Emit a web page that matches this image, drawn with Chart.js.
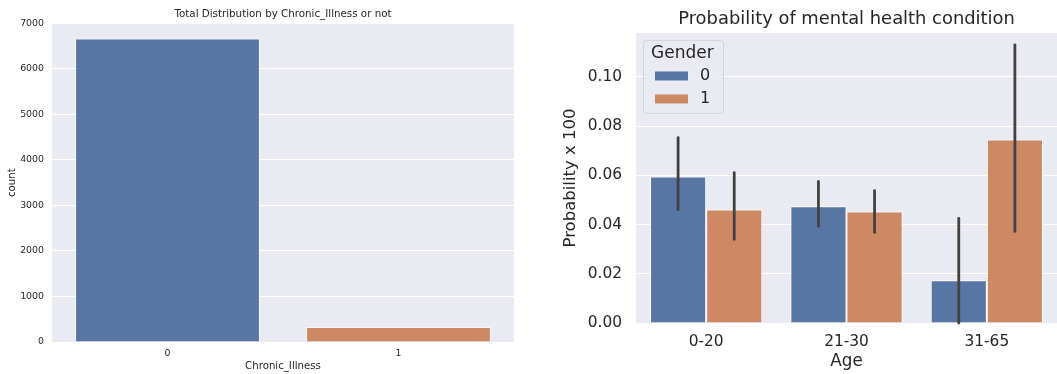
<!DOCTYPE html>
<html><head><meta charset="utf-8">
<script src="https://cdn.jsdelivr.net/npm/chart.js@4.4.0/dist/chart.umd.min.js"></script>
<style>
html,body{margin:0;padding:0;background:#fff;width:1057px;height:374px;overflow:hidden}
#wrap{position:relative;width:1057px;height:374px}
#c1{position:absolute;left:0;top:0}
#c2{position:absolute;left:540px;top:0}
</style></head><body>
<div id="wrap"><canvas id="c1" width="540" height="374"></canvas><canvas id="c2" width="517" height="374"></canvas></div>
<script>
// ---- data ----
const illnessCategories = ['0', '1'];
const illnessCounts = [6670, 330];
const illnessTickStep = 1000;
const illnessMax = 7000;

const ageGroups = ['0-20', '21-30', '31-65'];
const genderLabels = ['0', '1'];
const probGender0 = [0.0595, 0.0474, 0.0174];
const probGender1 = [0.0461, 0.0453, 0.0745];
const ciLowGender0 = [0.0461, 0.0393, 0.0];
const ciHighGender0 = [0.0753, 0.0575, 0.0425];
const ciLowGender1 = [0.0340, 0.0368, 0.0372];
const ciHighGender1 = [0.0611, 0.0538, 0.1130];
const probTickStep = 0.02;
const probMax = 0.1178;

// ---- styles ----
const BLUE = '#5875A4';
const ORANGE = '#CC8963';
const TEXT = '#262626';
const FONT = "'DejaVu Sans', sans-serif";
Chart.defaults.font.family = FONT;
Chart.defaults.color = TEXT;

const bgPlugin = {
  id: 'bg',
  beforeDraw(chart) {
    const {ctx, chartArea: a} = chart;
    ctx.save();
    ctx.fillStyle = '#EAEAF2';
    ctx.fillRect(a.left, a.top, a.right - a.left, a.bottom - a.top);
    ctx.restore();
  }
};

// ---- chart 1 ----
new Chart(document.getElementById('c1'), {
  type: 'bar',
  data: {
    labels: illnessCategories,
    datasets: [{
      data: illnessCounts,
      backgroundColor: [BLUE, ORANGE],
      borderColor: 'rgba(255,255,255,0.6)',
      borderWidth: 1,
      categoryPercentage: 0.8,
      barPercentage: 1.0
    }]
  },
  options: {
    responsive: false,
    animation: false,
    devicePixelRatio: 1,
    layout: {padding: {left: 0, right: 26, top: 0, bottom: 0}},
    plugins: {
      legend: {display: false},
      tooltip: {enabled: false},
      title: {
        display: true,
        fullSize: false,
        text: 'Total Distribution by Chronic_Illness or not',
        font: {size: 10.3, weight: 'normal'},
        color: TEXT,
        padding: {top: 8, bottom: 3}
      }
    },
    scales: {
      x: {
        grid: {display: false, drawTicks: false},
        border: {display: false},
        ticks: {font: {size: 9.4}, padding: 5.5, color: TEXT},
        title: {display: true, text: 'Chronic_Illness', font: {size: 10.2}, color: TEXT, padding: {top: 0, bottom: 1.2}},
        afterFit: s => { s.height = 32; }
      },
      y: {
        min: 0, max: illnessMax,
        grid: {color: '#FFFFFF', lineWidth: 1, drawTicks: false},
        border: {display: false},
        ticks: {stepSize: illnessTickStep, font: {size: 9.4}, padding: 8, color: TEXT,
          callback: v => String(v)},
        title: {display: true, text: 'count', font: {size: 10.2}, color: TEXT, padding: {top: 6, bottom: 0}},
        afterFit: s => { s.width = 52; }
      }
    }
  },
  plugins: [bgPlugin]
});

// ---- chart 2 ----
const ciLow = [ciLowGender0, ciLowGender1];
const ciHigh = [ciHighGender0, ciHighGender1];

const errPlugin = {
  id: 'err',
  afterDatasetsDraw(chart) {
    const {ctx} = chart;
    const y = chart.scales.y;
    ctx.save();
    ctx.strokeStyle = '#424242';
    ctx.lineWidth = 2.8;
    ctx.lineCap = 'round';
    chart.data.datasets.forEach((ds, di) => {
      const meta = chart.getDatasetMeta(di);
      meta.data.forEach((el, i) => {
        ctx.beginPath();
        ctx.moveTo(el.x, y.getPixelForValue(ciLow[di][i]));
        ctx.lineTo(el.x, y.getPixelForValue(ciHigh[di][i]));
        ctx.stroke();
      });
    });
    ctx.restore();
  }
};

const legendPlugin = {
  id: 'customLegend',
  afterDraw(chart) {
    const {ctx, chartArea: a} = chart;
    const bx = a.left + 7, by = a.top + 7, bw = 80, bh = 73;
    ctx.save();
    ctx.fillStyle = 'rgba(234,234,242,0.8)';
    ctx.strokeStyle = '#D3D3DA';
    ctx.lineWidth = 1;
    ctx.beginPath();
    ctx.roundRect(bx + 0.5, by + 0.5, bw, bh, 3);
    ctx.fill();
    ctx.stroke();
    ctx.fillStyle = TEXT;
    ctx.textBaseline = 'middle';
    ctx.textAlign = 'left';
    ctx.font = "17px " + FONT;
    ctx.fillText('Gender', bx + 8, by + 14);
    ctx.font = "16px " + FONT;
    chart.data.datasets.forEach((ds, i) => {
      const cy = by + 36 + i * 23;
      ctx.fillStyle = ds.backgroundColor;
      ctx.fillRect(bx + 12, cy - 4.5, 33, 9);
      ctx.fillStyle = TEXT;
      ctx.fillText(ds.label, bx + 57, cy);
    });
    ctx.restore();
  }
};

new Chart(document.getElementById('c2'), {
  type: 'bar',
  data: {
    labels: ageGroups,
    datasets: [
      {label: genderLabels[0], data: probGender0, backgroundColor: BLUE, borderColor: '#FFFFFF', borderWidth: 1, categoryPercentage: 0.8, barPercentage: 1.0},
      {label: genderLabels[1], data: probGender1, backgroundColor: ORANGE, borderColor: '#FFFFFF', borderWidth: 1, categoryPercentage: 0.8, barPercentage: 1.0}
    ]
  },
  options: {
    responsive: false,
    animation: false,
    devicePixelRatio: 1,
    layout: {padding: {left: 0, right: 0, top: 0, bottom: 0}},
    plugins: {
      legend: {display: false},
      tooltip: {enabled: false},
      title: {
        display: true,
        fullSize: false,
        text: 'Probability of mental health condition',
        font: {size: 17.9, weight: 'normal'},
        color: TEXT,
        padding: {top: 8.5, bottom: 3}
      }
    },
    scales: {
      x: {
        grid: {display: false, drawTicks: false},
        border: {display: false},
        ticks: {font: {size: 15.4}, padding: 9.5, color: TEXT},
        title: {display: true, text: 'Age', font: {size: 16.8}, color: TEXT, padding: {top: 0, bottom: 2}},
        afterFit: s => { s.height = 51; }
      },
      y: {
        min: 0, max: probMax,
        grid: {color: '#FFFFFF', lineWidth: 1, drawTicks: false},
        border: {display: false},
        ticks: {stepSize: probTickStep, includeBounds: false, font: {size: 15.4}, padding: 14, color: TEXT,
          callback: v => v.toFixed(2)},
        title: {display: true, text: 'Probability x 100', font: {size: 16.5}, color: TEXT, padding: {top: 21, bottom: 0}},
        afterFit: s => { s.width = 96; }
      }
    }
  },
  plugins: [bgPlugin, errPlugin, legendPlugin]
});
</script>
</body></html>
